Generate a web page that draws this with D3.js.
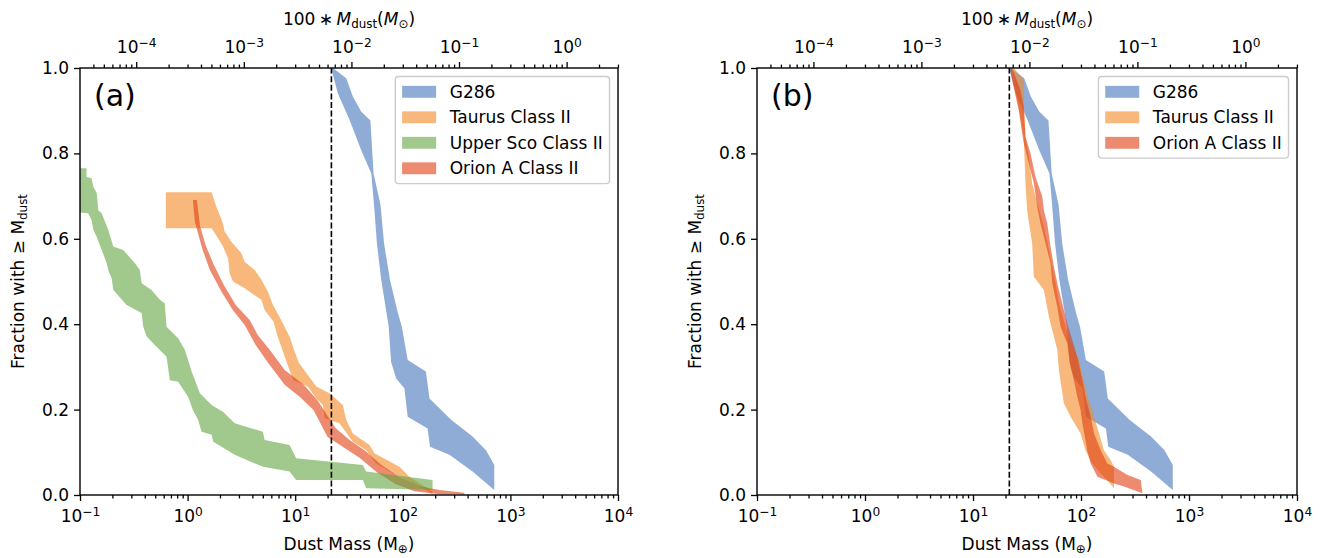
<!DOCTYPE html>
<html><head><meta charset="utf-8">
<script src="https://cdn.jsdelivr.net/npm/d3@7"></script>
<style>body{margin:0;background:#fff} svg{display:block} text{font-family:"DejaVu Sans",sans-serif}</style>
</head><body><svg id="c" width="1334" height="558"></svg>
<script>
// ---------------- data (mass in Earth masses, fraction) ----------------
const seriesNames = ["G286","Taurus Class II","Upper Sco Class II","Orion A Class II"];
const seriesColors = ["#4375bb","#f38925","#64a541","#df3e11"];
const dustLimit = 21.7;            // dashed vertical line (M_earth)
const earthToSun100 = 100 * 3.003e-6; // top axis conversion
const xMajorTicks = [0.1,1,10,100,1000,10000];
const topMajorTicks = [1e-4,1e-3,1e-2,1e-1,1];
const yTicks = [0,0.2,0.4,0.6,0.8,1.0];

const g286Hi = [[22.4,1.0],[29.8,0.976],[34.3,0.933],[41.0,0.898],[50.0,0.877],[53.5,0.753],[62.0,0.680],[67.0,0.589],[76.0,0.504],[90.0,0.426],[98.0,0.394],[111,0.316],[164,0.289],[177,0.226],[281,0.176],[445,0.137],[593,0.105],[708,0.070],[708,0.012]];
const g286Lo = [[21.6,1.0],[24.9,0.941],[32.0,0.878],[41.0,0.808],[51.0,0.753],[54.0,0.680],[57.5,0.589],[63.0,0.504],[74.0,0.394],[77.8,0.312],[86.7,0.273],[103.5,0.250],[111,0.183],[170,0.156],[179,0.113],[271,0.094],[445,0.055],[708,0.012]];

const taurusAHi = [[0.628,0.709],[1.67,0.709],[1.85,0.675],[1.99,0.656],[2.13,0.636],[2.21,0.617],[2.55,0.593],[3.16,0.566],[3.39,0.546],[4.20,0.527],[4.85,0.504],[5.58,0.476],[6.21,0.445],[7.4,0.410],[8.9,0.370],[9.6,0.345],[10.8,0.310],[13.1,0.281],[15.7,0.254],[20.8,0.238],[27.7,0.211],[29.8,0.176],[34.3,0.144],[49.0,0.117],[54.5,0.098],[93.0,0.066],[115,0.043],[188,0.008]];
const taurusALo = [[0.628,0.625],[1.67,0.625],[1.92,0.601],[2.13,0.582],[2.38,0.554],[2.46,0.519],[2.64,0.500],[3.39,0.484],[4.85,0.457],[5.20,0.433],[6.3,0.406],[6.8,0.375],[7.6,0.340],[8.4,0.308],[9.6,0.269],[13.1,0.254],[15.7,0.226],[18.1,0.211],[18.7,0.180],[25.8,0.168],[30.8,0.141],[34.3,0.125],[45.6,0.105],[56.5,0.074],[80.5,0.051],[115,0.031],[164,0.012],[188,0.002]];

const uscoHi = [[0.09,0.765],[0.115,0.765],[0.115,0.745],[0.128,0.742],[0.133,0.722],[0.143,0.707],[0.148,0.667],[0.159,0.660],[0.183,0.621],[0.204,0.582],[0.252,0.574],[0.324,0.543],[0.360,0.527],[0.374,0.496],[0.462,0.480],[0.552,0.457],[0.614,0.449],[0.637,0.394],[0.817,0.367],[0.942,0.340],[1.01,0.316],[1.09,0.289],[1.30,0.238],[1.67,0.211],[2.13,0.195],[2.74,0.168],[5.01,0.148],[5.20,0.129],[8.87,0.117],[10.2,0.086],[42.5,0.070],[45.7,0.055],[189,0.035]];
const uscoLo = [[0.09,0.663],[0.119,0.660],[0.128,0.644],[0.133,0.621],[0.143,0.605],[0.159,0.574],[0.177,0.543],[0.183,0.527],[0.197,0.507],[0.204,0.480],[0.271,0.445],[0.374,0.426],[0.387,0.394],[0.416,0.371],[0.514,0.347],[0.637,0.324],[0.684,0.269],[0.817,0.265],[1.01,0.230],[1.12,0.199],[1.25,0.176],[1.35,0.148],[1.67,0.141],[1.73,0.125],[2.74,0.094],[5.01,0.066],[8.87,0.055],[10.2,0.035],[42.5,0.035],[45.7,0.016],[189,0.012]];

const orionAHi = [[1.22,0.691],[1.30,0.632],[1.47,0.585],[1.75,0.539],[2.17,0.492],[2.80,0.445],[3.78,0.410],[4.48,0.375],[5.79,0.340],[7.98,0.293],[12.0,0.258],[16.1,0.222],[23.7,0.157],[32.0,0.129],[44.0,0.105],[63.3,0.070],[93.0,0.042],[143,0.021],[219,0.012],[373,0.005]];
const orionALo = [[1.12,0.691],[1.17,0.639],[1.38,0.574],[1.61,0.527],[2.08,0.475],[2.63,0.433],[3.39,0.398],[4.29,0.351],[5.55,0.311],[7.98,0.258],[11.0,0.230],[14.8,0.199],[20.0,0.136],[28.1,0.112],[39.6,0.087],[58.1,0.052],[85.3,0.026],[128,0.009],[219,0.002],[373,0.001]];

const taurusBHi = [[23.9,1.0],[29.5,0.972],[29.5,0.925],[30.6,0.839],[32.9,0.792],[35.3,0.730],[39.3,0.683],[45.3,0.628],[50.4,0.574],[54.2,0.535],[58.1,0.496],[62.4,0.449],[72.0,0.394],[80.1,0.355],[95.6,0.316],[106,0.269],[118,0.222],[132,0.183],[147,0.144],[163,0.105],[188,0.082],[202,0.066],[202,0.016]];
const taurusBLo = [[23.0,0.995],[23.9,0.964],[27.5,0.886],[29.5,0.839],[30.6,0.730],[31.7,0.667],[35.3,0.589],[36.6,0.511],[45.3,0.480],[50.4,0.418],[54.2,0.386],[60.3,0.340],[62.4,0.293],[69.4,0.215],[80.1,0.183],[99.1,0.144],[110,0.105],[127,0.074],[152,0.051],[175,0.035],[202,0.016]];

const orionBHi = [[23.0,1.0],[27.5,0.948],[29.5,0.909],[30.6,0.839],[34.1,0.800],[37.9,0.745],[43.8,0.699],[45.3,0.667],[48.7,0.636],[52.2,0.582],[56.1,0.535],[60.3,0.496],[67.0,0.449],[74.6,0.402],[83.0,0.363],[92.4,0.324],[103,0.269],[110,0.230],[123,0.183],[132,0.144],[152,0.105],[175,0.074],[202,0.066],[269,0.047],[357,0.035],[371,0.004]];
const orionBLo = [[22.2,0.995],[23.0,0.972],[26.5,0.902],[28.5,0.847],[29.5,0.824],[31.7,0.792],[36.6,0.730],[39.3,0.675],[42.2,0.636],[47.0,0.589],[52.2,0.543],[54.2,0.496],[60.3,0.441],[64.7,0.394],[74.6,0.355],[80.1,0.300],[86.0,0.269],[92.4,0.230],[99.1,0.199],[103,0.168],[110,0.129],[114,0.105],[123,0.074],[142,0.043],[202,0.027],[250,0.020],[371,0.004]];

// ---------------- drawing ----------------
const svg = d3.select("#c");
const FS = 17, ALPHA = 0.6;
const yTop = 68, yBot = 495;
const y = d3.scaleLinear().domain([0,1]).range([yBot,yTop]);

const panels = [
  {x0:80, x1:618, label:"(a)",
   draw:[[g286Hi,g286Lo,0],[taurusAHi,taurusALo,1],[orionAHi,orionALo,3],[uscoHi,uscoLo,2]],
   legend:[0,1,2,3]},
  {x0:757, x1:1297, label:"(b)",
   draw:[[g286Hi,g286Lo,0],[taurusBHi,taurusBLo,1],[orionBHi,orionBLo,3]],
   legend:[0,1,3]}
];

function minorTicks(lo, hi){
  const out=[];
  for(let k=Math.floor(Math.log10(lo))-1;k<=Math.ceil(Math.log10(hi));k++)
    for(let m=2;m<=9;m++){const v=m*Math.pow(10,k); if(v>=lo*0.9999 && v<=hi*1.0001) out.push(v);}
  return out;
}
function expLabel(sel, v){
  const e = Math.round(Math.log10(v));
  sel.text("10");
  sel.append("tspan").attr("dy","-0.48em").attr("font-size","0.72em").text(e<0?"\u2212"+(-e):String(e));
}

panels.forEach((p,pi)=>{
  const x = d3.scaleLog().domain([0.1,1e4]).range([p.x0,p.x1]);
  const xt = d3.scaleLog().domain([0.1*earthToSun100,1e4*earthToSun100]).range([p.x0,p.x1]);
  const g = svg.append("g");
  const clipId = "clip"+pi;
  svg.append("clipPath").attr("id",clipId).append("rect")
    .attr("x",p.x0).attr("y",yTop).attr("width",p.x1-p.x0).attr("height",yBot-yTop);

  const line = d3.line().x(d=>x(d[0])).y(d=>y(d[1]));
  const bands = g.append("g").attr("clip-path",`url(#${clipId})`);
  p.draw.forEach(([hi,lo,ci])=>{
    bands.append("path").attr("d", line(hi.concat(lo.slice().reverse()))+"Z")
      .attr("fill",seriesColors[ci]).attr("fill-opacity",ALPHA).attr("stroke","none");
  });

  // dashed limit line
  g.append("line").attr("x1",x(dustLimit)).attr("x2",x(dustLimit)).attr("y1",y(0)).attr("y2",y(1))
    .attr("stroke","#000").attr("stroke-width",1.6).attr("stroke-dasharray","6,2.6");

  // bottom axis
  const gb = g.append("g").attr("transform",`translate(0,${yBot})`)
    .call(d3.axisBottom(x).tickValues(xMajorTicks).tickSize(6).tickFormat(""));
  gb.selectAll(".tick").append("text").attr("y",27).attr("fill","#000")
    .attr("text-anchor","middle").attr("font-size",FS).each(function(d){expLabel(d3.select(this),d);});
  g.append("g").attr("transform",`translate(0,${yBot})`)
    .call(d3.axisBottom(x).tickValues(minorTicks(0.1,1e4).filter(v=>v<1e4)).tickSize(3.4).tickFormat(""));

  // top axis
  const gt = g.append("g").attr("transform",`translate(0,${yTop})`)
    .call(d3.axisTop(xt).tickValues(topMajorTicks).tickSize(6).tickFormat(""));
  gt.selectAll(".tick").append("text").attr("y",-15).attr("fill","#000")
    .attr("text-anchor","middle").attr("font-size",FS).each(function(d){expLabel(d3.select(this),d);});
  g.append("g").attr("transform",`translate(0,${yTop})`)
    .call(d3.axisTop(xt).tickValues(minorTicks(0.1*earthToSun100,1e4*earthToSun100)).tickSize(3.4).tickFormat(""));

  // left axis
  const gl = g.append("g").attr("transform",`translate(${p.x0},0)`)
    .call(d3.axisLeft(y).tickValues(yTicks).tickSize(6).tickPadding(5).tickFormat(d3.format(".1f")));
  gl.selectAll("text").attr("font-size",FS).attr("font-family","DejaVu Sans").attr("fill","#000");

  g.selectAll(".domain").remove();
  g.selectAll(".tick line").attr("stroke","#000").attr("stroke-width",1.3);

  // frame
  g.append("rect").attr("x",p.x0).attr("y",yTop).attr("width",p.x1-p.x0).attr("height",yBot-yTop)
    .attr("fill","none").attr("stroke","#000").attr("stroke-width",1.4);

  // panel label
  g.append("text").attr("x",p.x0+14).attr("y",106).attr("font-size",30)
    .attr("font-family","Liberation Sans, Arial, sans-serif").text(p.label);

  // axis labels
  const cx = (p.x0+p.x1)/2;
  const xl = g.append("text").attr("x",cx).attr("y",550).attr("text-anchor","middle").attr("font-size",FS);
  xl.append("tspan").text("Dust Mass (M");
  xl.append("tspan").attr("dy","0.25em").attr("font-size","0.7em").text("\u2295");
  xl.append("tspan").attr("dy","-0.18em").text(")");

  const tl = g.append("text").attr("x",cx).attr("y",25).attr("text-anchor","middle").attr("font-size",FS);
  tl.append("tspan").text("100\u2009\u2217\u2009");
  tl.append("tspan").attr("font-style","italic").text("M");
  tl.append("tspan").attr("dy","0.25em").attr("font-size","0.7em").text("dust");
  tl.append("tspan").attr("dy","-0.18em").text("(");
  tl.append("tspan").attr("font-style","italic").text("M");
  tl.append("tspan").attr("dy","0.25em").attr("font-size","0.7em").text("\u2299");
  tl.append("tspan").attr("dy","-0.18em").text(")");

  const yl = g.append("text").attr("transform",`translate(${p.x0-56},${(yTop+yBot)/2}) rotate(-90)`)
    .attr("text-anchor","middle").attr("font-size",FS);
  yl.append("tspan").text("Fraction with \u2265 M");
  yl.append("tspan").attr("dy","0.25em").attr("font-size","0.7em").text("dust");

  // legend
  const lg = g.append("g");
  const items = lg.selectAll("g.it").data(p.legend).join("g").attr("class","it")
    .attr("transform",(d,i)=>`translate(0,${i*FS*1.5})`);
  items.append("rect").attr("x",0).attr("y",-FS*0.35).attr("width",FS*2).attr("height",FS*0.7)
    .attr("fill",d=>seriesColors[d]).attr("fill-opacity",ALPHA);
  items.append("text").attr("x",FS*2.8).attr("y",0).attr("dy","0.36em").attr("font-size",FS).text(d=>seriesNames[d]);
  let tw = 0; items.selectAll("text").each(function(){tw=Math.max(tw,this.getComputedTextLength());});
  const pad = FS*0.4;
  const w = pad*2 + FS*2.8 + tw, h = pad*2 + p.legend.length*FS + (p.legend.length-1)*FS*0.5;
  const lx = p.x1 - FS*0.5 - w, ly = yTop + FS*0.5;
  lg.insert("rect",":first-child").attr("x",-pad).attr("y",-pad-FS/2).attr("width",w).attr("height",h)
    .attr("rx",3.4).attr("fill","#fff").attr("fill-opacity",0.8).attr("stroke","#cccccc").attr("stroke-width",1.4);
  lg.attr("transform",`translate(${lx+pad},${ly+pad+FS/2})`);
});
</script></body></html>
